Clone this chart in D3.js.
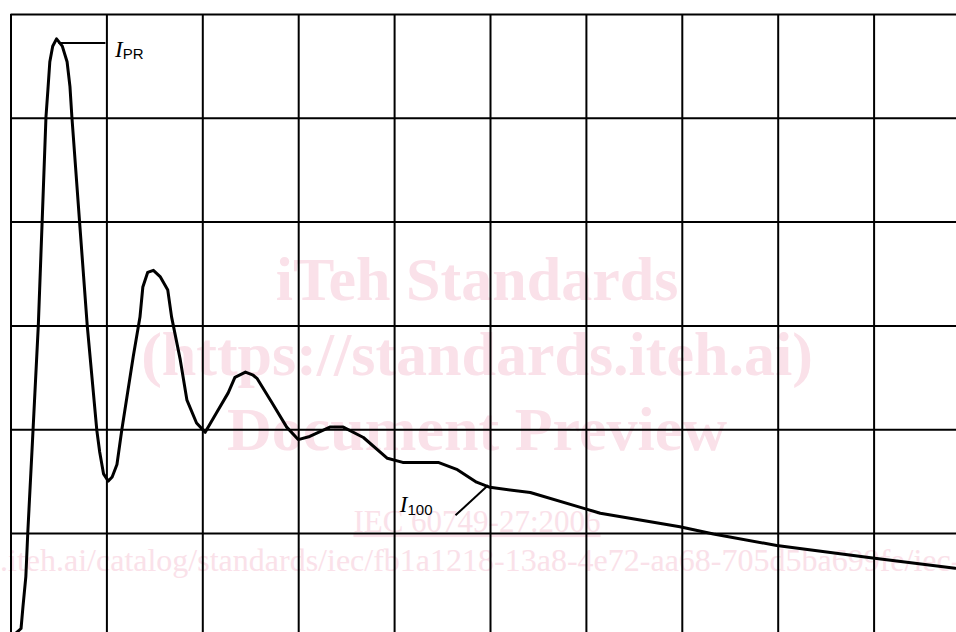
<!DOCTYPE html>
<html>
<head>
<meta charset="utf-8">
<script src="https://cdn.jsdelivr.net/npm/d3@7"></script>
<style>
  html, body { margin: 0; padding: 0; background: #fff; }
  svg { display: block; }
</style>
</head>
<body>
<svg id="chart" width="956" height="632"></svg>
<script>
// ---- data (grid-division units) ----
const xGrid = [0, 1, 2, 3, 4, 5, 6, 7, 8, 9, 10];
const yGrid = [1, 2, 3, 4, 5, 6];

const timeDiv = [0.05, 0.11, 0.13, 0.16, 0.18, 0.23, 0.29, 0.33, 0.37, 0.39, 0.41, 0.44, 0.48,
  0.54, 0.59, 0.62, 0.64, 0.72, 0.80, 0.90, 0.93, 0.97, 1.02, 1.06, 1.11, 1.16,
  1.28, 1.35, 1.38, 1.43, 1.49, 1.56, 1.64, 1.68, 1.77, 1.84, 1.94, 2.03,
  2.15, 2.27, 2.34, 2.45, 2.53, 2.57, 2.73, 2.88, 3.00,
  3.12, 3.33, 3.47, 3.68, 3.93, 4.09, 4.46, 4.66, 4.86, 5.00,
  5.42, 5.97, 6.15, 6.98, 7.33, 7.99, 8.99, 9.85];
const currentDiv = [0.03, 0.08, 0.29, 0.58, 1.00, 1.90, 3.00, 4.00, 5.01, 5.27, 5.54, 5.69, 5.76,
  5.69, 5.54, 5.30, 5.01, 4.00, 3.00, 1.99, 1.78, 1.57, 1.50, 1.54, 1.66, 1.99,
  2.70, 3.08, 3.37, 3.51, 3.53, 3.47, 3.34, 3.08, 2.67, 2.28, 2.06, 1.97,
  2.16, 2.35, 2.50, 2.55, 2.52, 2.49, 2.25, 2.02, 1.90,
  1.93, 2.02, 2.02, 1.92, 1.72, 1.68, 1.68, 1.61, 1.49, 1.44,
  1.39, 1.24, 1.19, 1.06, 0.99, 0.88, 0.76, 0.66];

// annotation leaders and labels (grid units)
const labelMain = ["I", "I"];
const labelSub = ["PR", "100"];
const labelX = [1.09, 4.06];
const labelY = [5.59, 1.20];
const leaderX1 = [0.50, 4.64];
const leaderY1 = [5.72, 1.17];
const leaderX2 = [0.99, 4.98];
const leaderY2 = [5.72, 1.46];

const watermarkBig = ["iTeh Standards", "(https://standards.iteh.ai)", "Document Preview"];
const watermarkStd = "IEC 60749-27:2006";
const watermarkUrlPrefix = "https://standards.";
const watermarkUrl = "https://standards.iteh.ai/catalog/standards/iec/fb1a1218-13a8-4e72-aa68-705d5ba699fe/iec-60749-27-2006";

// ---- layout ----
const W = 956, H = 632;
const x = d3.scaleLinear().domain([0, 10]).range([10.5, 969.5]);
const y = d3.scaleLinear().domain([0, 6]).range([636.8, 14]);

const svg = d3.select("#chart");
svg.append("rect").attr("width", W).attr("height", H).attr("fill", "#fff");

// watermark
const pink = "#fae1e9";
const wm = svg.append("g").attr("fill", pink).attr("font-family", "'Liberation Serif', 'Times New Roman', serif");
const bigBase = [300, 375, 450];
watermarkBig.forEach((t, i) => {
  wm.append("text").attr("x", 477).attr("y", bigBase[i])
    .attr("text-anchor", "middle").attr("font-size", 62).attr("font-weight", "bold").text(t);
});
wm.append("text").attr("x", 477).attr("y", 532).attr("text-anchor", "middle")
  .attr("font-size", 31).style("text-decoration", "underline").text(watermarkStd);
const meas = wm.append("text").attr("font-size", 32).attr("x", 0).attr("y", -100).text(watermarkUrlPrefix);
const preLen = meas.node().getComputedTextLength();
meas.remove();
wm.append("text").attr("x", 8 - preLen).attr("y", 571).attr("font-size", 32).text(watermarkUrl);

// grid via axes
const gx = svg.append("g").attr("transform", `translate(0,${y(6)})`)
  .call(d3.axisBottom(x).tickValues(xGrid).tickSize(H - y(6)).tickFormat(""));
const gy = svg.append("g").attr("transform", `translate(${x(0)},0)`)
  .call(d3.axisRight(y).tickValues(yGrid).tickSize(W - x(0)).tickFormat(""));
[gx, gy].forEach(g => {
  g.select(".domain").remove();
  g.selectAll(".tick line").attr("stroke", "#000").attr("stroke-width", 2);
});

// curve
const pts = timeDiv.map((t, i) => [t, currentDiv[i]]);
svg.append("path").datum(pts)
  .attr("fill", "none").attr("stroke", "#000").attr("stroke-width", 3)
  .attr("stroke-linejoin", "round").attr("stroke-linecap", "round")
  .attr("d", d3.line().x(d => x(d[0])).y(d => y(d[1])));

// leaders
labelMain.forEach((m, i) => {
  svg.append("line")
    .attr("x1", x(leaderX1[i])).attr("y1", y(leaderY1[i]))
    .attr("x2", x(leaderX2[i])).attr("y2", y(leaderY2[i]))
    .attr("stroke", "#000").attr("stroke-width", 2);
  const t = svg.append("text").attr("x", x(labelX[i])).attr("y", y(labelY[i])).attr("fill", "#000");
  t.append("tspan").attr("font-family", "'Liberation Serif', 'Times New Roman', serif")
    .attr("font-style", "italic").attr("font-size", 23).text(m);
  t.append("tspan").attr("font-family", "'Liberation Sans', Arial, sans-serif")
    .attr("font-size", 15).attr("dy", 2.5).text(labelSub[i]);
});
</script>
</body>
</html>
